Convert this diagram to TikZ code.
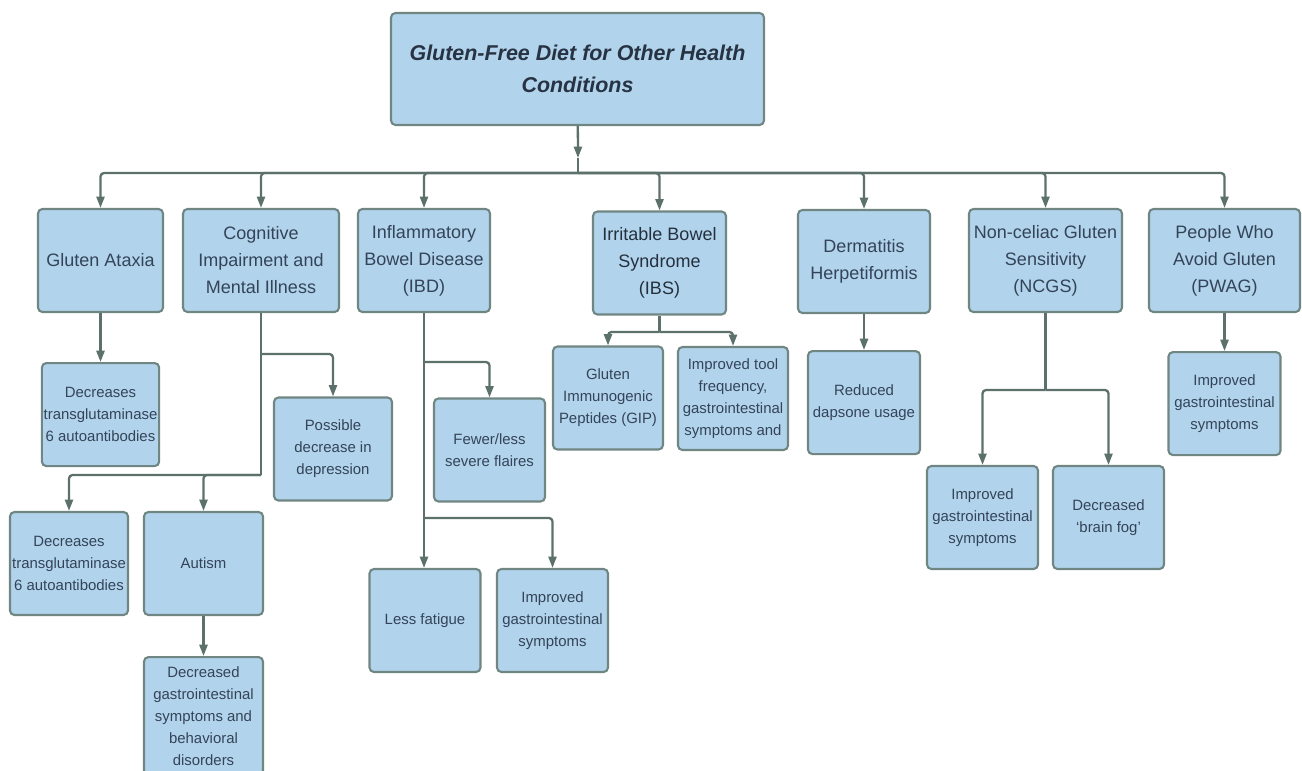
\documentclass[tikz,border=0pt]{standalone}
\usepackage{fontspec}
\setmainfont{Liberation Sans}
\usepackage{tikz}
\usetikzlibrary{arrows.meta, positioning, calc}
\usepackage{xcolor}
\definecolor{boxblue}{RGB}{177,211,236}
\definecolor{boxedge}{RGB}{112,134,130}
\definecolor{linkgray}{RGB}{92,112,108}
\definecolor{textnavy}{RGB}{52,68,88}

\begin{document}
\begin{tikzpicture}[
    x=0.02cm, y=-0.02cm,
    >={Triangle[length=6.5pt,width=4.6pt]},
    basebox/.style={rectangle, draw=boxedge, fill=boxblue, line width=1.2pt,
        rounded corners=2.5pt, align=center, inner sep=1pt, text=textnavy},
    titlebox/.style={basebox, minimum width=7.46cm, minimum height=2.24cm,
        text=textnavy!75!black, font=\fontsize{12.2}{18.2}\selectfont\bfseries\itshape},
    condbox/.style={basebox, minimum height=2.06cm,
        font=\fontsize{10.25}{15.4}\selectfont},
    effectbox/.style={basebox, minimum height=2.06cm,
        font=\fontsize{8.5}{12.5}\selectfont},
    arrow/.style={->, line width=1.3pt, linkgray, rounded corners=2pt},
    link/.style={line width=1.3pt, linkgray, rounded corners=2pt},
]
\useasboundingbox (0,0) rectangle (1302,771);

% === TITLE ===
\node[titlebox] (title) at (577.5,69) {Gluten-Free Diet for Other Health\\Conditions};

% === CONDITIONS ===
\node[condbox, minimum width=2.5cm] (ataxia) at (100.5,260.5) {Gluten Ataxia};
\node[condbox, minimum width=3.12cm] (cognit) at (261,260.5) {Cognitive\\Impairment and\\Mental Illness};
\node[condbox, minimum width=2.64cm] (ibd) at (424,260.5) {Inflammatory\\Bowel Disease\\(IBD)};
\node[condbox, minimum width=2.66cm, text=textnavy!70!black] (ibs) at (659.5,263) {Irritable Bowel\\Syndrome\\(IBS)};
\node[condbox, minimum width=2.64cm] (derm) at (864,261.5) {Dermatitis\\Herpetiformis};
\node[condbox, minimum width=3.06cm] (ncgs) at (1045.5,260.5) {Non-celiac Gluten\\Sensitivity\\(NCGS)};
\node[condbox, minimum width=3.02cm] (pwag) at (1224.5,260.5) {People Who\\Avoid Gluten\\(PWAG)};

% === EFFECTS ===
\node[effectbox, minimum width=2.34cm, below=0.98cm of ataxia] (ataxiaout) {Decreases\\transglutaminase\\6 autoantibodies};
\node[effectbox, minimum width=2.36cm] (depress) at (333,449) {Possible\\decrease in\\depression};
\node[effectbox, minimum width=2.36cm] (cogdec) at (69,563.5) {Decreases\\transglutaminase\\6 autoantibodies};
\node[effectbox, minimum width=2.38cm] (autism) at (203.5,563.5) {Autism};
\node[effectbox, minimum width=2.38cm, minimum height=2.36cm, below=0.8cm of autism] (autismout) {Decreased\\gastrointestinal\\symptoms and\\behavioral\\disorders};
\node[effectbox, minimum width=2.22cm] (flaires) at (489.5,450) {Fewer/less\\severe flaires};
\node[effectbox, minimum width=2.22cm] (fatigue) at (425,620.5) {Less fatigue};
\node[effectbox, minimum width=2.22cm] (ibdgi) at (552.5,620.5) {Improved\\gastrointestinal\\symptoms};
\node[effectbox, minimum width=2.2cm] (gip) at (608,398) {Gluten\\Immunogenic\\Peptides (GIP)};
\node[effectbox, minimum width=2.2cm] (stool) at (733,398.5) {Improved tool\\frequency,\\gastrointestinal\\symptoms and};
\node[effectbox, minimum width=2.24cm, below=0.72cm of derm] (dapsone) {Reduced\\dapsone usage};
\node[effectbox, minimum width=2.22cm] (ncgsgi) at (982.5,517.5) {Improved\\gastrointestinal\\symptoms};
\node[effectbox, minimum width=2.22cm] (brainfog) at (1108.5,517.5) {Decreased\\`brain fog'};
\node[effectbox, minimum width=2.24cm, below=0.76cm of pwag] (pwaggi) {Improved\\gastrointestinal\\symptoms};

% Split points
\coordinate (titletip) at (578,158);
\coordinate (bus) at (578,173);
\coordinate (cogsplit) at (261,354);
\coordinate (cogsplit2) at (261,475);
\coordinate (ibdsplit) at (424,362);
\coordinate (ibdsplit2) at (424,518);
\coordinate (ibssplit) at (659.5,332);
\coordinate (ncgssplit) at (1045.5,390);

% === ARROWS ===
% Title to conditions
\draw[arrow] (title) -- (titletip);
\draw[link] (titletip) -- (bus);
\foreach \cond in {ataxia, cognit, ibd, ibs, derm, ncgs, pwag}
    \draw[arrow] (bus) -| (\cond.north);

% Conditions to effects
\draw[arrow] (ataxia) -- (ataxiaout);

\draw[link] (cognit.south) -- (cogsplit2);
\draw[arrow] (cogsplit) -| (depress.north);
\draw[arrow] (cogsplit2) -| (cogdec.north);
\draw[arrow] (cogsplit2) -| (autism.north);
\draw[arrow] (autism) -- (autismout);

\draw[arrow] (ibd.south) -- (ibd.south |- fatigue.north);
\draw[arrow] (ibdsplit) -| (flaires.north);
\draw[arrow] (ibdsplit2) -| (ibdgi.north);

\draw[link] (ibs.south) -- (ibssplit);
\draw[arrow] (ibssplit) -| (gip.north);
\draw[arrow] (ibssplit) -| (stool.north);

\draw[arrow] (derm) -- (dapsone);

\draw[link] (ncgs.south) -- (ncgssplit);
\draw[arrow] (ncgssplit) -| (ncgsgi.north);
\draw[arrow] (ncgssplit) -| (brainfog.north);

\draw[arrow] (pwag.south) -- (pwag.south |- pwaggi.north);

\end{tikzpicture}
\end{document}
